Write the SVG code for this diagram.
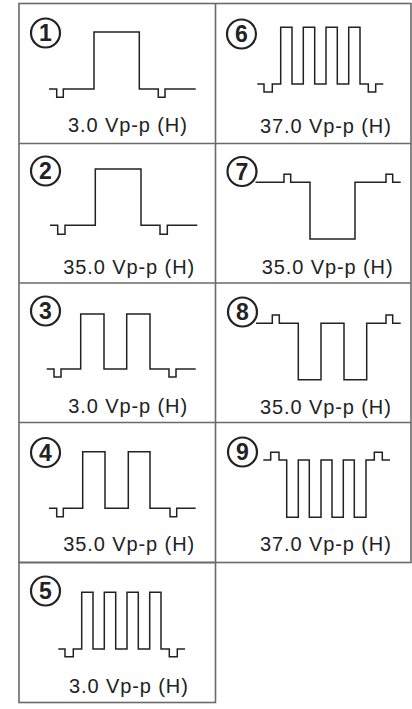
<svg xmlns="http://www.w3.org/2000/svg" width="412" height="709" viewBox="0 0 412 709">
<style>
.grid{fill:none;stroke:#6a6a6a;stroke-width:1.6}
.wave{fill:none;stroke:#222;stroke-width:1.5;stroke-linejoin:miter}
.num{fill:none;stroke:#222;stroke-width:2.2}
.digit{font-family:"Liberation Sans",Arial,sans-serif;font-size:23px;font-weight:bold;fill:#222;text-anchor:middle}
.lbl{font-family:"Liberation Sans",Arial,sans-serif;font-size:20px;fill:#222;letter-spacing:0.9px}
</style>
<rect width="412" height="709" fill="#fff"/>
<g id="grid">
<rect class="grid" x="19" y="3.5" width="392" height="559"/>
<line class="grid" x1="215.5" y1="3.5" x2="215.5" y2="562.5"/>
<line class="grid" x1="19" y1="143.5" x2="411" y2="143.5"/>
<line class="grid" x1="19" y1="283" x2="411" y2="283"/>
<line class="grid" x1="19" y1="422.5" x2="411" y2="422.5"/>
<rect class="grid" x="19" y="562.5" width="196.5" height="140"/>
</g>
<g id="connectors"></g>
<g id="cell1">
<circle class="num" cx="45.5" cy="33" r="14.5"/><text class="digit" x="45.5" y="41.2">1</text>
<path class="wave" d="M49,89 H56.7 V97.3 H63.3 V89 H94 V32 H139.3 V89 H158.3 V97.3 H165 V89 H195.7"/>
<text class="lbl" x="68" y="131.7">3.0 Vp-p (H)</text>
</g>
<g id="cell2">
<circle class="num" cx="45.5" cy="171" r="14.5"/><text class="digit" x="45.5" y="179.2">2</text>
<path class="wave" d="M50,225.3 H57.7 V234.3 H65 V225.3 H95.3 V169 H141 V225.3 H160 V234.3 H167.3 V225.3 H197.3"/>
<text class="lbl" x="63.3" y="274.3">35.0 Vp-p (H)</text>
</g>
<g id="cell3">
<circle class="num" cx="45.5" cy="311" r="14.5"/><text class="digit" x="45.5" y="319.2">3</text>
<path class="wave" d="M46.7,369 H54 V377 H61 V369 H80.7 V314 H104 V369 H126.7 V314 H150 V369 H169 V377 H176 V369 H195.7"/>
<text class="lbl" x="68.3" y="413.3">3.0 Vp-p (H)</text>
</g>
<g id="cell4">
<circle class="num" cx="45.5" cy="452.5" r="14.5"/><text class="digit" x="45.5" y="460.7">4</text>
<path class="wave" d="M49,508.3 H56.7 V516.7 H63.3 V508.3 H82.7 V451.7 H105 V508.3 H128.3 V451.7 H150 V508.3 H170 V516.7 H176.7 V508.3 H195.7"/>
<text class="lbl" x="63.3" y="550.7">35.0 Vp-p (H)</text>
</g>
<g id="cell5">
<circle class="num" cx="45.5" cy="591" r="14.5"/><text class="digit" x="45.5" y="599.2">5</text>
<path class="wave" d="M58.3,649 H65 V656.7 H73.3 V649 H81.7 V592.3 H93 V649 H104.3 V592.3 H115.7 V649 H127 V592.3 H138.3 V649 H149.7 V592.3 H161 V649 H169.3 V656.7 H177.3 V649 H185"/>
<text class="lbl" x="69" y="692.7">3.0 Vp-p (H)</text>
</g>
<g id="cell6">
<circle class="num" cx="241.5" cy="34" r="14.5"/><text class="digit" x="241.5" y="42.2">6</text>
<path class="wave" d="M257.3,84 H264 V92 H272.3 V84 H280.7 V27.3 H292 V84 H303.3 V27.3 H314.7 V84 H326 V27.3 H337.3 V84 H348.7 V27.3 H360 V84 H368.3 V92 H375.7 V84 H383.3"/>
<text class="lbl" x="260" y="132.7">37.0 Vp-p (H)</text>
</g>
<g id="cell7">
<circle class="num" cx="242" cy="171.5" r="14.5"/><text class="digit" x="242" y="179.7">7</text>
<path class="wave" d="M255.5,182.3 H284 V174.3 H290.7 V182.3 H310 V239 H355 V182.3 H386 V174.3 H392.7 V182.3 H400.7"/>
<text class="lbl" x="261.7" y="274.3">35.0 Vp-p (H)</text>
</g>
<g id="cell8">
<circle class="num" cx="242.5" cy="312" r="14.5"/><text class="digit" x="242.5" y="320.2">8</text>
<path class="wave" d="M256,323.3 H272.3 V315 H279.3 V323.3 H298.3 V379.7 H321 V323.3 H344 V379.7 H366.7 V323.3 H386 V315 H392.7 V323.3 H400.7"/>
<text class="lbl" x="260" y="414.3">35.0 Vp-p (H)</text>
</g>
<g id="cell9">
<circle class="num" cx="242.5" cy="452" r="14.5"/><text class="digit" x="242.5" y="460.2">9</text>
<path class="wave" d="M263.3,460 H270.7 V452.3 H279 V460 H286.7 V517.3 H298.3 V460 H309.3 V517.3 H321 V460 H332 V517.3 H343.3 V460 H354.3 V517.3 H366 V460 H374.3 V452.3 H382.3 V460 H390"/>
<text class="lbl" x="260" y="550.7">37.0 Vp-p (H)</text>
</g>
</svg>
